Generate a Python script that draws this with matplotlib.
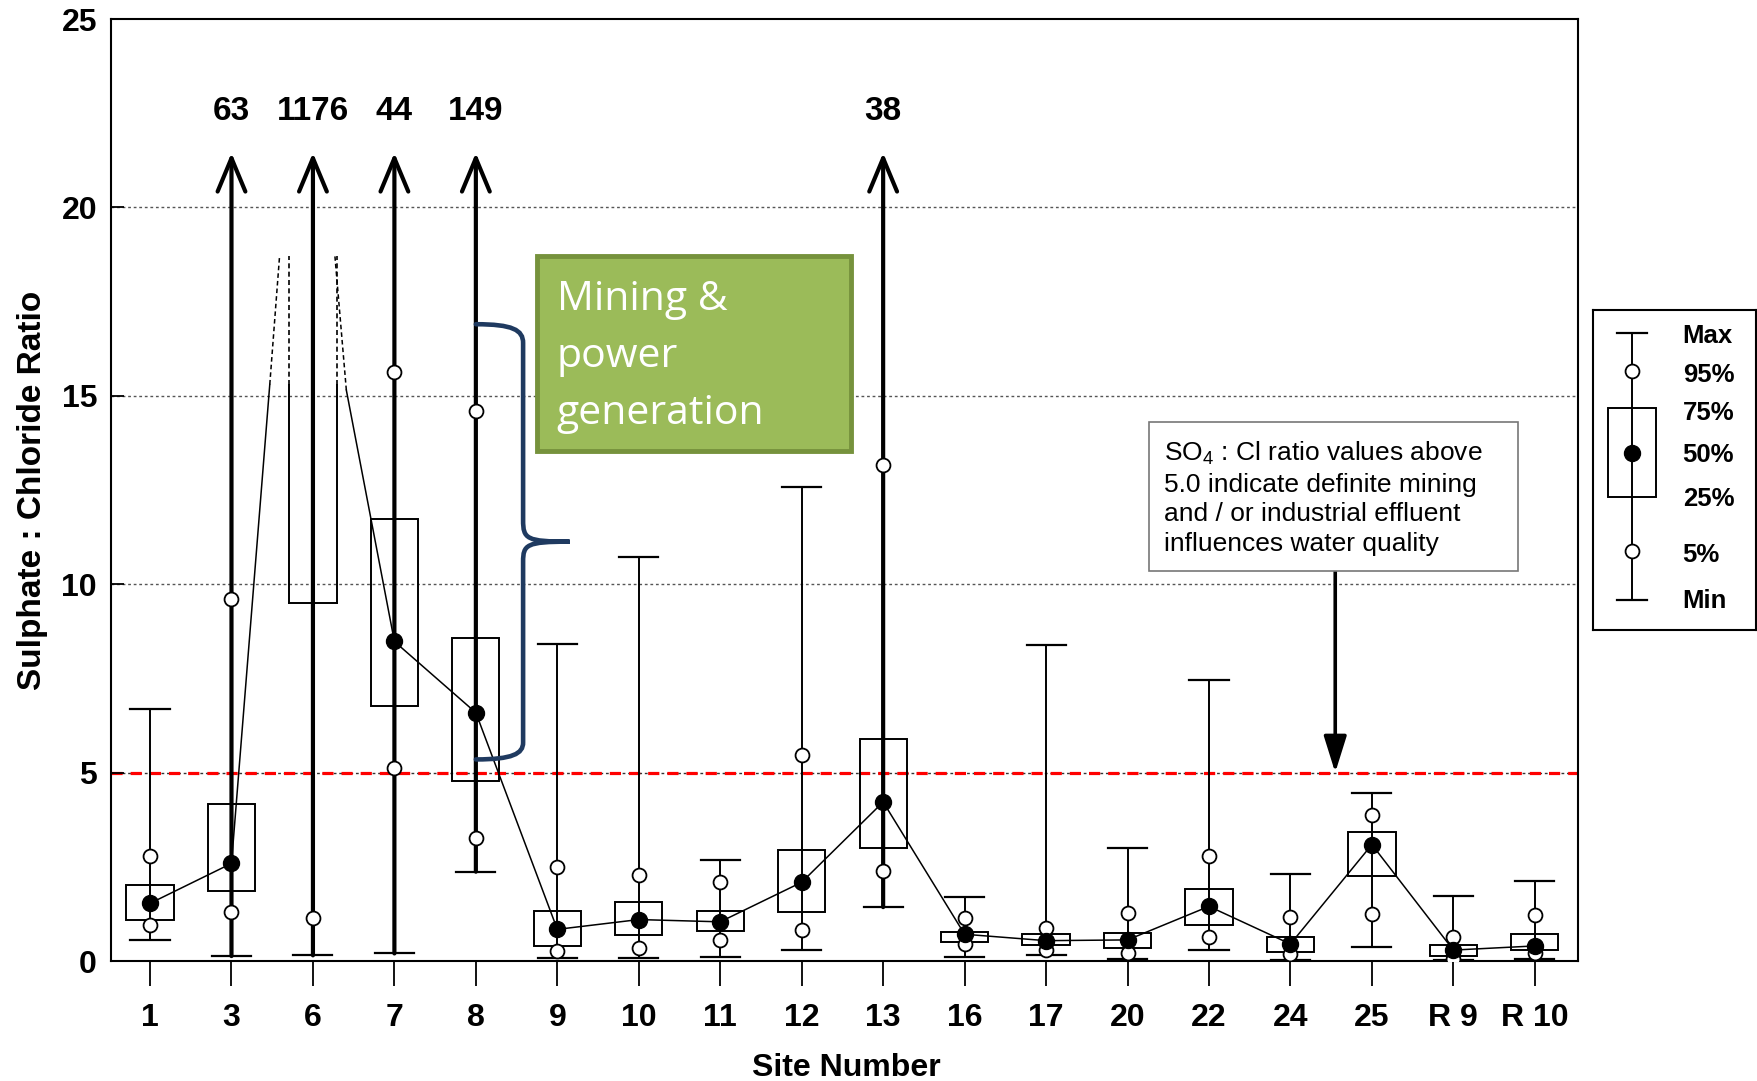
import matplotlib
matplotlib.use("Agg")
import matplotlib.pyplot as plt
import matplotlib.patches as mpatches
from matplotlib.path import Path
import numpy as np

plt.rcParams["font.family"] = ["Liberation Sans", "DejaVu Sans"]
plt.rcParams["mathtext.fontset"] = "custom"
plt.rcParams["mathtext.rm"] = "Liberation Sans"

# ---- data (sulphate : chloride ratio per site) ----
nan = np.nan
sites = ["1", "3", "6", "7", "8", "9", "10", "11", "12", "13",
         "16", "17", "20", "22", "24", "25", "R 9", "R 10"]
v_min = [0.57, 0.13, 0.15, 0.20, 2.37, 0.09, 0.07, 0.11, 0.29, 1.43,
         0.11, 0.16, 0.06, 0.29, 0.04, 0.38, 0.04, 0.06]
p05 = [0.95, 1.31, 1.14, 5.12, 3.26, 0.26, 0.34, 0.56, 0.82, 2.38,
       0.44, 0.28, 0.20, 0.63, 0.18, 1.24, 0.06, 0.22]
q1 = [1.08, 1.87, 9.50, 6.78, 4.77, 0.40, 0.69, 0.79, 1.31, 3.00,
      0.51, 0.42, 0.34, 0.96, 0.24, 2.26, 0.12, 0.29]
med = [1.53, 2.59, nan, 8.48, 6.59, 0.84, 1.10, 1.04, 2.09, 4.22,
       0.71, 0.54, 0.56, 1.45, 0.45, 3.09, 0.29, 0.40]
q3 = [2.03, 4.16, nan, 11.74, 8.58, 1.32, 1.56, 1.32, 2.94, 5.89,
      0.77, 0.71, 0.74, 1.90, 0.64, 3.43, 0.43, 0.71]
p95 = [2.80, 9.60, nan, 15.62, 14.61, 2.50, 2.28, 2.09, 5.47, 13.16,
       1.13, 0.87, 1.27, 2.79, 1.16, 3.88, 0.63, 1.22]
v_max = [6.70, 63, 1176, 44, 149, 8.42, 10.72, 2.69, 12.58, 38,
         1.70, 8.40, 3.01, 7.47, 2.32, 4.47, 1.72, 2.13]
threshold = 5.0

legend_labels = ["Max", "95%", "75%", "50%", "25%", "5%", "Min"]

YTOP = 25
ARROW_TIP = 21.45
BREAK_LO, BREAK_HI = 15.3, 18.7
BW = 0.29   # half box width
CW = 0.24   # half cap width

fig = plt.figure(figsize=(17.58, 10.81), dpi=100)
fig.patch.set_facecolor("white")
ax = fig.add_axes([0.0631, 0.111, 0.8345, 0.8714])

x = np.arange(1, len(sites) + 1)

ax.set_xlim(0.52, 18.53)
ax.set_ylim(0, YTOP)
ax.set_yticks(range(0, 26, 5))
ax.set_xticks(x)
ax.set_xticklabels(sites)
for t in ax.get_xticklabels() + ax.get_yticklabels():
    t.set_fontweight("bold")
ax.tick_params(axis="x", direction="out", length=18, width=1.3, labelsize=23, pad=12)
ax.tick_params(axis="y", direction="in", length=9, width=1.3, labelsize=23, pad=10)
for s in ax.spines.values():
    s.set_linewidth(1.5)

ax.set_xlabel("Site Number", fontsize=23, fontweight="bold")
ax.set_ylabel("Sulphate : Chloride Ratio", fontsize=24, fontweight="bold")
ax.xaxis.set_label_coords(0.501, -0.098)
ax.yaxis.set_label_coords(-0.043, 0.5)

# grid + threshold
for g in [10, 15, 20]:
    ax.axhline(g, color="#555555", lw=1, ls=(0, (2, 2)), zorder=0)
ax.axhline(threshold, color="#333333", lw=1, ls=(0, (2, 2)), zorder=0)
ax.axhline(threshold, color="red", lw=2.3, ls=(0, (3.5, 2.5)), zorder=1)

# ---- boxes ----
for i, xi in enumerate(x):
    if v_max[i] > YTOP:
        ax.annotate("", xy=(xi, ARROW_TIP), xytext=(xi, v_min[i]),
                    arrowprops=dict(arrowstyle="->,head_length=1.2,head_width=0.5",
                                    lw=3, color="black", shrinkA=0, shrinkB=0,
                                    mutation_scale=20), zorder=4)
        ax.text(xi, 22.55, str(v_max[i]), ha="center", va="center",
                fontsize=24, fontweight="bold")
    else:
        ax.plot([xi, xi], [v_min[i], v_max[i]], color="black", lw=1.4, zorder=3)
        ax.plot([xi - CW, xi + CW], [v_max[i], v_max[i]], color="black", lw=1.6, zorder=3)
    ax.plot([xi - CW, xi + CW], [v_min[i], v_min[i]], color="black", lw=1.6, zorder=3)

    if np.isnan(q3[i]):
        # box runs off the scale: broken sides
        for dx in (-BW, BW):
            ax.plot([xi + dx, xi + dx], [q1[i], BREAK_LO], color="black", lw=1.4, zorder=3)
            ax.plot([xi + dx, xi + dx], [BREAK_LO, BREAK_HI], color="black", lw=1.2,
                    ls=(0, (3, 2)), zorder=3)
        ax.plot([xi - BW, xi + BW], [q1[i], q1[i]], color="black", lw=1.4, zorder=3)
    else:
        ax.add_patch(mpatches.Rectangle((xi - BW, q1[i]), 2 * BW, q3[i] - q1[i],
                                        fill=False, ec="black", lw=1.4, zorder=3))

    for p in (p05[i], p95[i]):
        if not np.isnan(p):
            ax.plot(xi, p, "o", ms=10, mfc="white", mec="black", mew=1.3, zorder=5)
    if not np.isnan(med[i]):
        ax.plot(xi, med[i], "o", ms=11.5, color="black", zorder=6)

# median connecting line (broken where the median is off scale)
med_arr = np.array(med)
ax.plot(x, med_arr, color="black", lw=1.1, zorder=2)
for i in np.where(np.isnan(med_arr))[0]:
    xi = x[i]
    ax.plot([x[i - 1], xi - 0.53], [med[i - 1], BREAK_LO], color="black", lw=1.1, zorder=2)
    ax.plot([xi - 0.53, xi - 0.41], [BREAK_LO, BREAK_HI], color="black", lw=1.1,
            ls=(0, (3, 2)), zorder=2)
    ax.plot([x[i + 1], xi + 0.41], [med[i + 1], BREAK_LO - 0.15], color="black", lw=1.1, zorder=2)
    ax.plot([xi + 0.41, xi + 0.27], [BREAK_LO - 0.15, BREAK_HI], color="black", lw=1.1,
            ls=(0, (3, 2)), zorder=2)

# ---- brace + green box ----
verts = [(5.0, 16.9), (5.45, 16.9), (5.58, 16.75), (5.58, 16.4),
         (5.58, 11.7),
         (5.58, 11.2), (5.62, 11.13), (6.15, 11.13),
         (5.62, 11.13), (5.58, 11.05), (5.58, 10.6),
         (5.58, 5.8),
         (5.58, 5.5), (5.45, 5.35), (5.0, 5.35)]
codes = [Path.MOVETO, Path.CURVE4, Path.CURVE4, Path.CURVE4,
         Path.LINETO,
         Path.CURVE4, Path.CURVE4, Path.CURVE4,
         Path.CURVE4, Path.CURVE4, Path.CURVE4,
         Path.LINETO,
         Path.CURVE4, Path.CURVE4, Path.CURVE4]
ax.add_patch(mpatches.PathPatch(Path(verts, codes), fill=False, ec="#1F3A60",
                                lw=3.3, capstyle="round", zorder=4))

ax.add_patch(mpatches.Rectangle((5.75, 13.54), 3.85, 5.18, fc="#9BBB59",
                                ec="#76923C", lw=3.5, zorder=7))
for line, yb in zip(["Mining &", "power", "generation"], [17.27, 15.77, 14.26]):
    ax.text(5.99, yb, line, color="white", fontsize=29.5, family="Open Sans",
            va="baseline", ha="left", zorder=8)

# ---- note box + arrow ----
ax.add_patch(mpatches.Rectangle((13.26, 10.35), 4.53, 3.96, fc="white",
                                ec="#777777", lw=1.2, zorder=7))
ax.text(13.45, 13.84,
        "SO$_\\mathregular{4}$ : Cl ratio values above\n5.0 indicate definite mining\n"
        "and / or industrial effluent\ninfluences water quality",
        fontsize=19, va="top", ha="left", linespacing=1.29, zorder=8)
ax.annotate("", xy=(15.55, threshold), xytext=(15.55, 10.35),
            arrowprops=dict(arrowstyle="-|>,head_length=1.6,head_width=0.5",
                            lw=2.6, color="black", shrinkA=0, shrinkB=0,
                            mutation_scale=14), zorder=6)

# ---- key ----
lax = fig.add_axes([0.906, 0.4172, 0.093, 0.296])
lax.set_xlim(0, 1)
lax.set_ylim(0, 10)
lax.set_xticks([])
lax.set_yticks([])
for s in lax.spines.values():
    s.set_linewidth(1.5)
kx = 0.24
k_min, k_p05, k_q1, k_med, k_q3, k_p95, k_max = 0.94, 2.47, 4.16, 5.53, 6.94, 8.09, 9.28
lax.plot([kx, kx], [k_min, k_max], color="black", lw=1.4)
for v in (k_min, k_max):
    lax.plot([kx - 0.089, kx + 0.089], [v, v], color="black", lw=1.6)
lax.add_patch(mpatches.Rectangle((kx - 0.147, k_q1), 0.294, k_q3 - k_q1,
                                 fill=False, ec="black", lw=1.4))
for v in (k_p05, k_p95):
    lax.plot(kx, v, "o", ms=10, mfc="white", mec="black", mew=1.3)
lax.plot(kx, k_med, "o", ms=11.5, color="black")
for lab, ly in zip(legend_labels, [9.2, 7.97, 6.78, 5.47, 4.09, 2.34, 0.92]):
    lax.text(0.55, ly, lab, fontsize=18.5, fontweight="bold", va="center", ha="left")

fig.savefig("out.png", dpi=100)
